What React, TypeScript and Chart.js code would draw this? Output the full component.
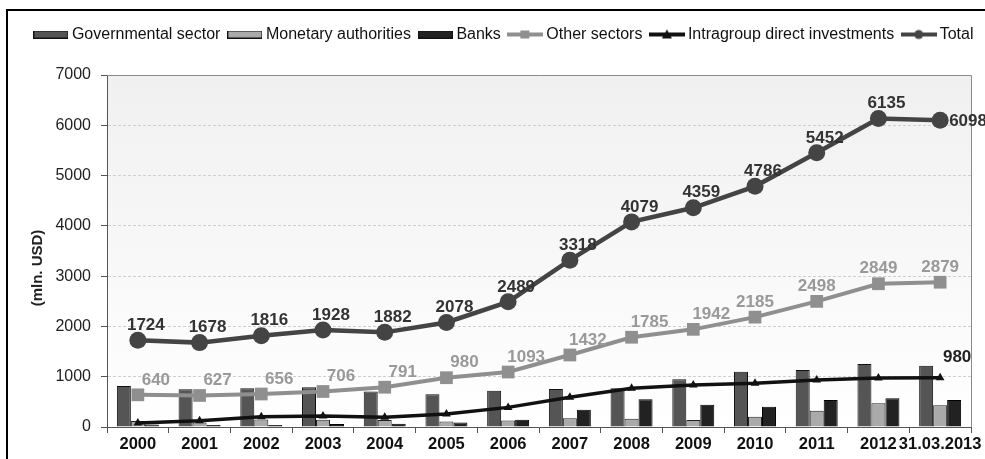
import React, { useEffect, useRef } from 'react';
import { Chart, registerables } from 'chart.js';

Chart.register(...registerables);

const categories = ['2000', '2001', '2002', '2003', '2004', '2005', '2006', '2007', '2008', '2009', '2010', '2011', '2012', '31.03.2013'];
const governmental = [815, 750, 770, 790, 705, 650, 720, 755, 770, 950, 1100, 1135, 1255, 1220];
const monetary = [120, 90, 150, 145, 140, 110, 130, 175, 165, 140, 205, 325, 470, 435];
const banks = [50, 40, 40, 60, 65, 90, 145, 345, 551, 444, 404, 537, 571, 537];
const otherSectors = [640, 627, 656, 706, 791, 980, 1093, 1432, 1785, 1942, 2185, 2498, 2849, 2879];
const intragroup = [80, 125, 205, 220, 195, 260, 390, 590, 770, 835, 870, 935, 975, 980];
const total = [1724, 1678, 1816, 1928, 1882, 2078, 2489, 3318, 4079, 4359, 4786, 5452, 6135, 6098];
const legendNames = ['Governmental sector', 'Monetary authorities', 'Banks', 'Other sectors', 'Intragroup direct investments', 'Total'];
const yAxisTitle = '(mln. USD)';
const yMin = 0;
const yMax = 7000;
const yStep = 1000;

const FONT = '"Liberation Sans", Arial, sans-serif';
const C_GOV = '#555555';
const C_MON = '#aaaaaa';
const C_BANK = '#222222';
const C_OTHER = '#8f8f8f';
const C_INTRA = '#111111';
const C_TOTAL = '#444444';

function barSymbol(fill: string) {
  const c = document.createElement('canvas');
  c.width = 35;
  c.height = 8;
  const x = c.getContext('2d')!;
  x.fillStyle = '#111';
  x.fillRect(0, 0, 35, 8);
  x.fillStyle = fill;
  x.fillRect(1, 1, 33, 6);
  return c;
}

function lineSymbol(color: string, marker: string) {
  const c = document.createElement('canvas');
  c.width = 36;
  c.height = 12;
  const x = c.getContext('2d')!;
  x.strokeStyle = color;
  x.lineWidth = 4;
  x.beginPath();
  x.moveTo(0, 6);
  x.lineTo(36, 6);
  x.stroke();
  x.fillStyle = color;
  if (marker === 'rect') {
    x.fillRect(13, 2, 9, 8);
  } else if (marker === 'triangle') {
    x.beginPath();
    x.moveTo(18, 1);
    x.lineTo(23, 10);
    x.lineTo(13, 10);
    x.closePath();
    x.fill();
  } else {
    x.beginPath();
    x.arc(18, 6, 4.5, 0, Math.PI * 2);
    x.fill();
  }
  return c;
}

const framePlugin = {
  id: 'frameAndBg',
  beforeDraw(chart: any) {
    const { ctx, chartArea, width, height } = chart;
    ctx.save();
    ctx.fillStyle = '#ffffff';
    ctx.fillRect(0, 0, width, height);
    ctx.fillStyle = '#000000';
    ctx.fillRect(6, 9, 2, height - 9);
    ctx.fillRect(6, 9, width - 6, 2);
    const g = ctx.createLinearGradient(0, chartArea.top, 0, chartArea.bottom);
    g.addColorStop(0, '#f0f0f0');
    g.addColorStop(1, '#ffffff');
    ctx.fillStyle = g;
    ctx.fillRect(chartArea.left, chartArea.top, chartArea.right - chartArea.left, chartArea.bottom - chartArea.top);
    ctx.restore();
  },
  beforeDatasetsDraw(chart: any) {
    const { ctx, chartArea } = chart;
    ctx.save();
    ctx.strokeStyle = '#8a8a8a';
    ctx.lineWidth = 1;
    ctx.beginPath();
    ctx.moveTo(chartArea.left, chartArea.top + 0.5);
    ctx.lineTo(chartArea.right + 0.5, chartArea.top + 0.5);
    ctx.lineTo(chartArea.right + 0.5, chartArea.bottom);
    ctx.stroke();
    ctx.restore();
  },
  afterDraw(chart: any) {
    const { ctx } = chart;
    ctx.save();
    ctx.translate(38, 268);
    ctx.rotate(-Math.PI / 2);
    ctx.font = `bold 15px ${FONT}`;
    ctx.fillStyle = '#222';
    ctx.textAlign = 'center';
    ctx.textBaseline = 'middle';
    ctx.fillText(yAxisTitle, 0, 0);
    ctx.restore();
  },
};

const labelPlugin = {
  id: 'valueLabels',
  afterDatasetsDraw(chart: any) {
    const { ctx } = chart;
    ctx.save();
    ctx.font = `bold 17px ${FONT}`;
    ctx.textBaseline = 'middle';
    const mo = chart.getDatasetMeta(3);
    ctx.fillStyle = '#999999';
    ctx.textAlign = 'center';
    mo.data.forEach((p: any, i: number) => {
      const dx = i < 10 ? 18 : 0;
      ctx.fillText(String(otherSectors[i]), p.x + dx, p.y - 15);
    });
    const mt = chart.getDatasetMeta(5);
    ctx.fillStyle = '#333333';
    mt.data.forEach((p: any, i: number) => {
      if (i === mt.data.length - 1) {
        ctx.textAlign = 'left';
        ctx.fillText(String(total[i]), p.x + 9, p.y + 1);
      } else {
        ctx.textAlign = 'center';
        ctx.fillText(String(total[i]), p.x + 8, p.y - 15);
      }
    });
    const mi = chart.getDatasetMeta(4);
    const last = mi.data[mi.data.length - 1];
    ctx.fillStyle = '#222222';
    ctx.textAlign = 'center';
    ctx.fillText(String(intragroup[intragroup.length - 1]), last.x + 17, last.y - 20);
    ctx.restore();
  },
};

const legendHeightPlugin = {
  id: 'legendHeight',
  beforeInit(chart: any) {
    const lg = chart.legend;
    if (!lg) return;
    const orig = lg.fit;
    lg.fit = function () {
      orig.call(this);
      this.height = 60;
    };
  },
};

export default function App() {
  const ref = useRef<HTMLCanvasElement | null>(null);

  useEffect(() => {
    if (!ref.current) return;
    const symbols = [
      barSymbol(C_GOV),
      barSymbol(C_MON),
      barSymbol(C_BANK),
      lineSymbol(C_OTHER, 'rect'),
      lineSymbol(C_INTRA, 'triangle'),
      lineSymbol(C_TOTAL, 'circle'),
    ];
    const chart = new Chart(ref.current, {
      type: 'bar',
      data: {
        labels: categories,
        datasets: [
          { type: 'bar', label: legendNames[0], data: governmental, backgroundColor: C_GOV, borderColor: '#111', borderWidth: 1, order: 10, categoryPercentage: 0.68, barPercentage: 1.0 },
          { type: 'bar', label: legendNames[1], data: monetary, backgroundColor: C_MON, borderColor: '#222', borderWidth: 1, order: 10, categoryPercentage: 0.68, barPercentage: 1.0 },
          { type: 'bar', label: legendNames[2], data: banks, backgroundColor: C_BANK, borderColor: '#000', borderWidth: 1, order: 10, categoryPercentage: 0.68, barPercentage: 1.0 },
          { type: 'line', label: legendNames[3], data: otherSectors, borderColor: C_OTHER, backgroundColor: C_OTHER, borderWidth: 4, pointStyle: 'rect', pointRadius: 9, pointBorderWidth: 0, tension: 0, order: 3 },
          { type: 'line', label: legendNames[4], data: intragroup, borderColor: C_INTRA, backgroundColor: C_INTRA, borderWidth: 3.5, pointStyle: 'triangle', pointRadius: 5, pointBorderWidth: 0, tension: 0, order: 2 },
          { type: 'line', label: legendNames[5], data: total, borderColor: C_TOTAL, backgroundColor: C_TOTAL, borderWidth: 4.5, pointStyle: 'circle', pointRadius: 8.5, pointBorderWidth: 0, tension: 0, order: 1 },
        ] as any,
      },
      options: {
        responsive: true,
        maintainAspectRatio: false,
        animation: false,
        layout: { padding: { top: 15, left: 0, right: 0, bottom: 0 } },
        plugins: {
          tooltip: { enabled: false },
          legend: {
            position: 'top',
            align: 'end',
            labels: {
              usePointStyle: true,
              pointStyleWidth: 26,
              padding: 11.5,
              color: '#111',
              font: { family: FONT, size: 16 },
              generateLabels: () =>
                legendNames.map((name, i) => ({
                  text: name,
                  pointStyle: symbols[i] as any,
                  fillStyle: 'transparent',
                  strokeStyle: 'transparent',
                  lineWidth: 0,
                  hidden: false,
                  datasetIndex: i,
                  fontColor: '#111',
                })),
            },
          },
        },
        scales: {
          x: {
            offset: true,
            grid: { offset: true, drawOnChartArea: false, drawTicks: true, tickLength: 6, tickColor: '#555', tickWidth: 1 },
            border: { color: '#555', width: 1 },
            ticks: { color: '#111', font: { family: FONT, size: 16.5, weight: 'bold' }, padding: 2, maxRotation: 0, minRotation: 0, autoSkip: false },
            afterFit: (s: any) => { s.height = 32; },
          },
          y: {
            min: yMin,
            max: yMax,
            ticks: { stepSize: yStep, color: '#222', font: { family: FONT, size: 16 }, padding: 10, callback: (v: any) => String(v) },
            grid: { color: '#cfcfcf', tickColor: '#555', tickLength: 6, tickWidth: 1 },
            border: { color: '#555', width: 1, dash: [3, 2] },
            afterFit: (s: any) => { s.width = 107; },
          },
          y2: {
            position: 'right',
            display: true,
            grid: { display: false },
            ticks: { display: false },
            border: { display: false },
            afterFit: (s: any) => { s.width = 14; },
          },
        },
      } as any,
      plugins: [framePlugin, labelPlugin, legendHeightPlugin] as any,
    });
    return () => chart.destroy();
  }, []);

  return (
    <div style={{ position: 'fixed', left: 0, top: 0, width: 985, height: 459, background: '#fff' }}>
      <canvas ref={ref} />
    </div>
  );
}
